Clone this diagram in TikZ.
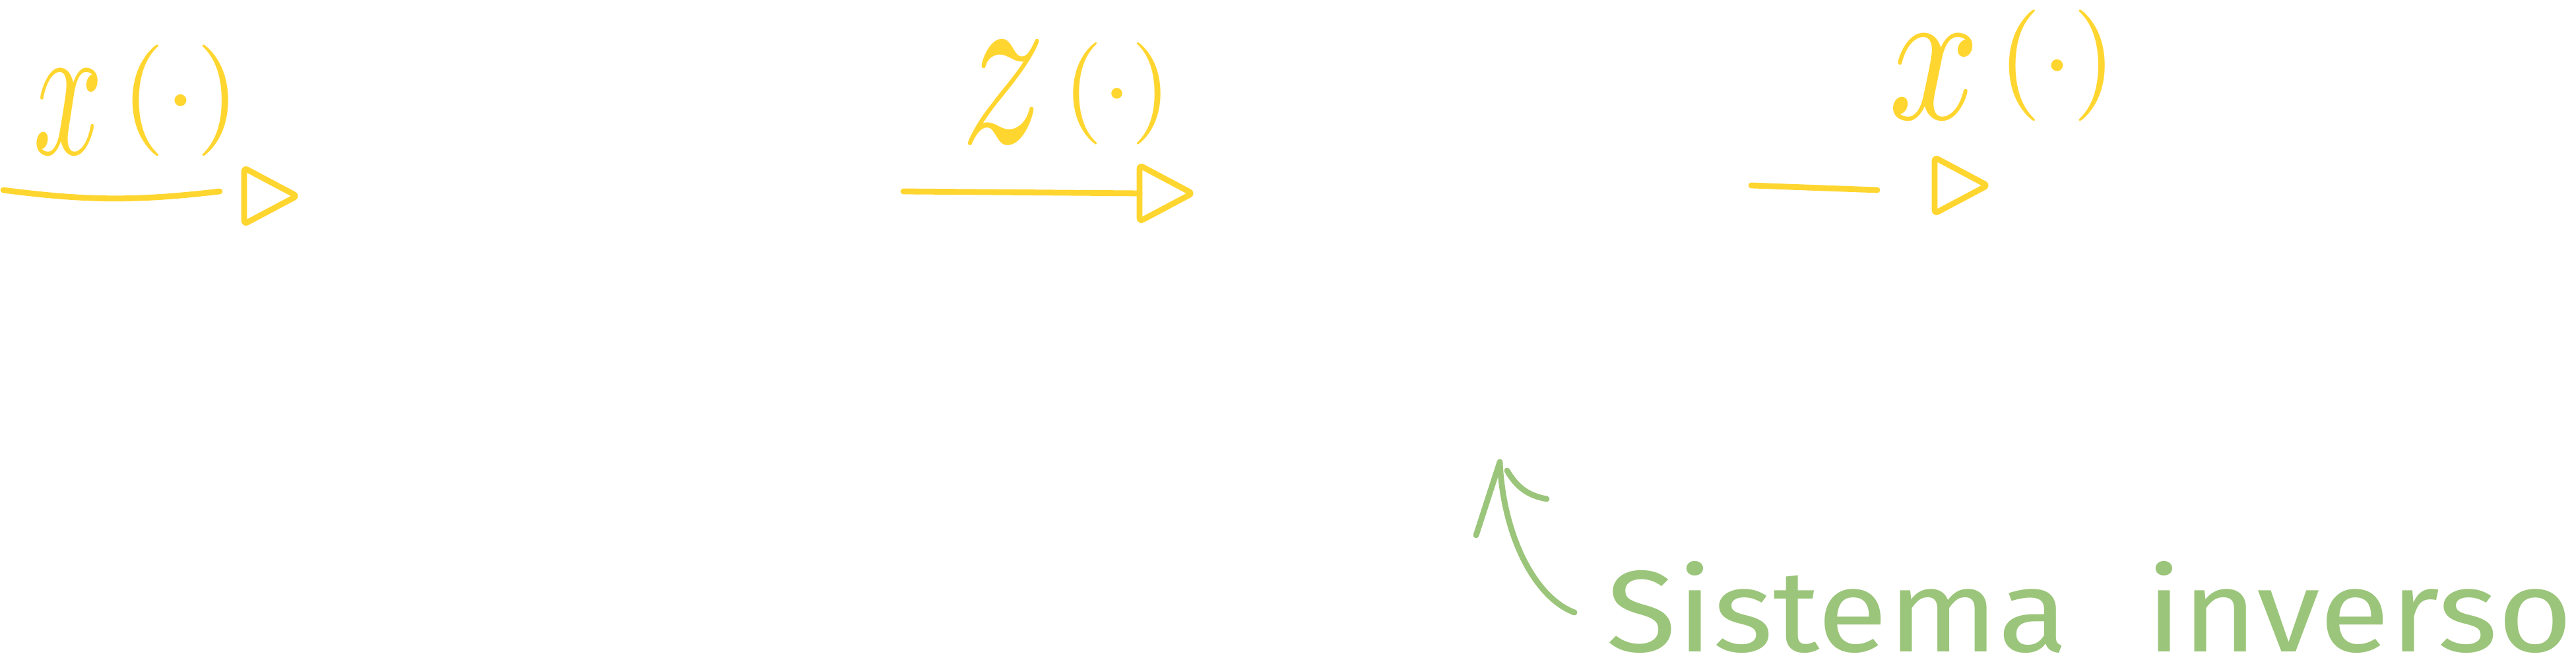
\documentclass[tikz,border=0pt]{standalone}
\usepackage{fontspec}
\newfontfamily\manuscrita{Fira Sans}
\definecolor{amarillo}{HTML}{FFD630}
\definecolor{verde}{HTML}{9BC57A}
\newcommand{\senal}[4]{\scalebox{#1}{\raisebox{-0.08cm}{\scalebox{#2}[#3]{$#4$}}$\,(\cdot)$}}

\begin{document}
\begin{tikzpicture}[
trazo/.style={amarillo, line width=2.5pt, line cap=round, line join=round},
cabeza/.style={trazo, rounded corners=1.5pt},
etiqueta/.style={amarillo, inner sep=0pt, anchor=base west},
nota/.style={verde, line width=2.5pt, line cap=round},
]
\fill[white] (0,0) rectangle (39.04,10);
\useasboundingbox (0,0) rectangle (39.04,10);

%señales
\node[etiqueta] (x1) at (0.5,8.05) {\senal{4.8}{1.1}{1.75}{x}};
\node[etiqueta] (z1) at (14.56,8.19) {\senal{4.4}{1.64}{2.3}{z}};
\node[etiqueta] (x2) at (28.62,8.58) {\senal{4.8}{1.43}{1.75}{x}};

%flechas
\coordinate (i1) at (0.05,7.12);
\coordinate (c1) at (3.33,7.10);
\coordinate (f1) at (4.50,7.03);
\coordinate (i2) at (13.69,7.10);
\coordinate (c2) at (17.27,7.07);
\coordinate (f2) at (18.07,7.07);
\coordinate (i3) at (26.54,7.19);
\coordinate (c3) at (28.45,7.12);
\coordinate (f3) at (30.12,7.19);
\draw[trazo] (i1) to[bend right=7] (c1);
\draw[cabeza] (f1) -- ++(-0.8,0.425) -- ++(0,-0.85) -- cycle;
\draw[trazo] (i2) -- (c2);
\draw[cabeza] (f2) -- ++(-0.8,0.425) -- ++(0,-0.85) -- cycle;
\draw[trazo] (i3) -- (c3);
\draw[cabeza] (f3) -- ++(-0.8,0.425) -- ++(0,-0.85) -- cycle;

%nota
\node[verde, anchor=base east, inner sep=0pt, font=\manuscrita\fontsize{50}{50}\selectfont] (sis) at (39.0,0.12) {\scalebox{1.11}[1]{Sistema \hspace{0.6cm}inverso}};
\coordinate (cola) at (23.86,0.72);
\coordinate (meta) at (22.73,3.0);
\draw[nota] (cola) .. controls (23.25,0.95) and (22.78,1.9) .. (meta);
\draw[nota] (meta) -- ++(-0.36,-1.11);
\draw[nota] (meta) ++(0.11,-0.13) to[out=-60,in=170] ++(0.6,-0.43);
\end{tikzpicture}
\end{document}
